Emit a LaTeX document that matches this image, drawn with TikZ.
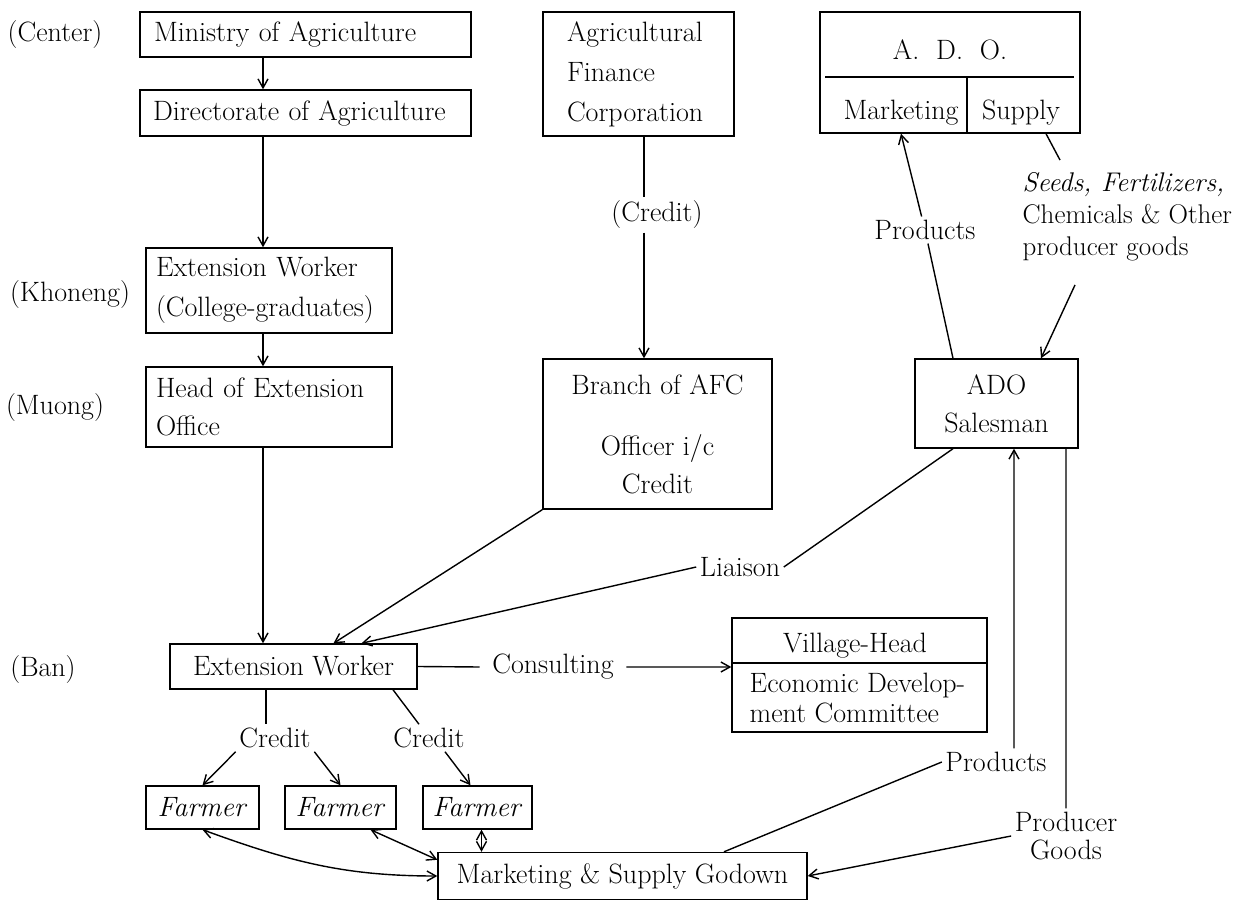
\documentclass[tikz,border=0pt]{standalone}
\usetikzlibrary{arrows.meta}
\tikzset{
  box/.style={draw, line width=1.4pt, inner sep=0pt},
  tag/.style={inner sep=3pt},
  >={Straight Barb[length=9pt,width=10pt]}
}
\begin{document}
\begin{tikzpicture}[x=1pt,y=-1pt,line width=1.4pt,font=\fontsize{28}{38}\selectfont]
\useasboundingbox (0,0) rectangle (1243,901);
%%% levels of administration
\node[tag] (lvC) at (55,35) {(Center)};
\node[tag] (lvK) at (70,295) {(Khoneng)};
\node[tag] (lvM) at (55,408) {(Muong)};
\node[tag] (lvB) at (43,670) {(Ban)};
%%% extension line
\node[box, minimum width=331pt, minimum height=45pt, text width=303pt, inner xsep=14pt, align=left] (minis) at (305.5,34.5) {Ministry of Agriculture};
\node[box, minimum width=331pt, minimum height=46pt, text width=305pt, inner xsep=13pt, align=left] (direc) at (305.5,113) {Directorate of Agriculture};
\node[box, minimum width=246pt, minimum height=85pt, text width=226pt, inner xsep=10pt, align=left, font=\fontsize{28}{40}\selectfont] (ewkh) at (269,290.5) {Extension Worker\\(College-graduates)};
\node[box, minimum width=246pt, minimum height=80pt, text width=226pt, inner xsep=10pt, align=left] (head) at (269,407) {Head of Extension\\Office};
\node[box, minimum width=247pt, minimum height=45pt] (ewban) at (293.5,666.5) {Extension Worker};
%%% finance line
\node[box, minimum width=191pt, minimum height=124pt, text width=143pt, inner xsep=24pt, align=left, font=\fontsize{28}{40}\selectfont] (afc) at (638.5,74) {Agricultural\\Finance\\Corporation};
\node[tag] (crAFC) at (657,215) {(Credit)};
\node[box, minimum width=229pt, minimum height=150pt, align=center] (branch) at (657.5,434) {Branch of AFC\\[23pt]Officer i/c\\Credit};
%%% marketing and supply line
\node[box, minimum width=260pt, minimum height=121pt] (ado) at (950,72.5) {};
\coordinate (adosplit) at (967,77);
\draw ([xshift=6pt]ado.west |- adosplit) -- ([xshift=-7pt]ado.east |- adosplit);
\draw (adosplit) -- (adosplit |- ado.south);
\node[tag, anchor=base] (adoT) at (950,60) {A.\ \ D.\ \ O.};
\node[tag, anchor=base] (mkt) at (901,120) {Marketing};
\node[tag, anchor=base] (supl) at (1021,120) {Supply};
\node[box, minimum width=163pt, minimum height=89pt, align=center] (sales) at (996.5,403.5) {ADO\\Salesman};
\node[tag, anchor=west, align=left, font=\fontsize{27}{32}\selectfont] (seeds) at (1019,217) {\textit{Seeds, Fertilizers,}\\Chemicals \& Other\\producer goods};
\node[tag] (prUp) at (925,230) {Products};
%%% village level
\node[box, minimum width=255pt, minimum height=114pt] (vh) at (859.5,675) {};
\coordinate (vhsplit) at (859.5,663);
\draw (vh.west |- vhsplit) -- (vh.east |- vhsplit);
\node[tag, anchor=base] (vhT) at (855,652) {Village-Head};
\node[tag, anchor=west, align=left, font=\fontsize{28}{30}\selectfont] (vhB) at (746,698) {Economic Develop-\\ment Committee};
\node[tag, inner xsep=12pt] (cons) at (553,667) {Consulting};
\node[tag] (liai) at (740,567) {Liaison};
\node[tag] (cr1) at (275,738) {Credit};
\node[tag] (cr2) at (429,738) {Credit};
%%% farmers and godown
\node[box, minimum width=113pt, minimum height=43pt] (f1) at (202.5,807.5) {\textit{Farmer}};
\node[box, minimum width=111pt, minimum height=43pt] (f2) at (340.5,807.5) {\textit{Farmer}};
\node[box, minimum width=109pt, minimum height=43pt] (f3) at (477.5,807.5) {\textit{Farmer}};
\node[box, minimum width=369pt, minimum height=47pt] (godn) at (622.5,876) {Marketing \& Supply Godown};
\node[tag] (prLow) at (996,762) {Products};
\node[tag, align=center, font=\fontsize{28}{28}\selectfont] (prGd) at (1066,836) {Producer\\Goods};
%%% connectors
\coordinate (spine) at (263,0);
\draw[->] (minis.south -| spine) -- (direc.north -| spine);
\draw[->] (direc.south -| spine) -- (ewkh.north -| spine);
\draw[->] (ewkh.south -| spine) -- (head.north -| spine);
\draw[->] (head.south -| spine) -- (ewban.north -| spine);
\coordinate (afcline) at (644,0);
\draw (afc.south -| afcline) -- (crAFC.north -| afcline);
\draw[->] (crAFC.south -| afcline) -- (branch.north -| afcline);
\draw[->] ([xshift=-43.5pt]sales.north) -- (prUp) -- (ado.south -| mkt);
\draw ([xshift=25pt]ado.south -| supl) -- ([xshift=41pt,yshift=9pt]seeds.north west);
\draw[->] ([xshift=56pt,yshift=-20pt]seeds.south west) -- ([xshift=44.5pt]sales.north);
\draw[->] (branch.south west) -- ([xshift=40pt]ewban.north);
\draw[->] ([xshift=-43.5pt]sales.south) -- (liai.east) (liai.west) -- ([xshift=68pt]ewban.north);
\draw[->] (ewban.east) -- (cons.west) (cons.east) -- (vh.west |- cons);
\draw ([xshift=-9pt]cr1.north |- ewban.south) -- ([xshift=-9pt]cr1.north);
\draw[->] (cr1.south west) -- (f1.north);
\draw[->] (cr1.south east) -- (f2.north);
\draw ([xshift=-36pt]cr2.north |- ewban.south) -- ([xshift=-10pt]cr2.north);
\draw[->] ([xshift=16pt]cr2.south) -- ([xshift=-7pt]f3.north);
\draw[<->] (f1.south) to[out=-20,in=180] (godn.west);
\draw[<->] ([xshift=30pt]f2.south) -- ([yshift=-8pt]godn.north west);
\draw[<->] ([xshift=4pt]f3.south) -- ([xshift=4pt]f3.south |- godn.north);
\draw[->] ([xshift=101.5pt]godn.north) -- (prLow.west) ([xshift=18pt]prLow.north) -- ([xshift=18pt]prLow.north |- sales.south);
\draw[->] (sales.south -| prGd) -- (prGd.north) (prGd.west) -- (godn.east);
\end{tikzpicture}
\end{document}
